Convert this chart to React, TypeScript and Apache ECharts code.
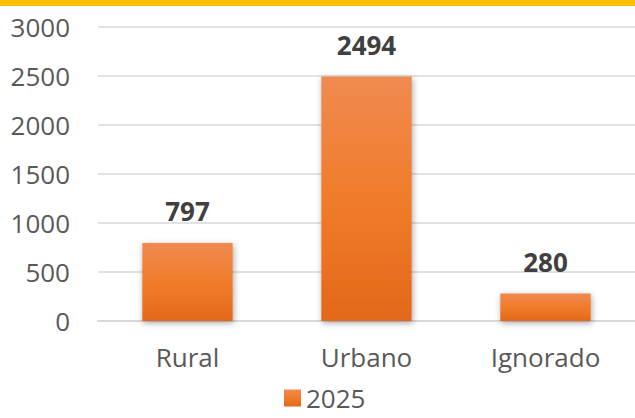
import React, { useEffect, useRef } from "react";
import * as echarts from "echarts";

const categories = ["Rural", "Urbano", "Ignorado"];
const values2025 = [797, 2494, 280];
const seriesName = "2025";
const yTicks = [0, 500, 1000, 1500, 2000, 2500, 3000];

export default function App() {
  const ref = useRef<HTMLDivElement>(null);
  useEffect(() => {
    if (!ref.current) return;
    const chart = echarts.init(ref.current, null, { renderer: "svg" });
    const font = "'Open Sans', 'Noto Sans', sans-serif";
    chart.setOption({
      animation: false,
      textStyle: { fontFamily: font },
      graphic: [
        {
          type: "rect",
          left: 0,
          top: 0,
          shape: { width: 635, height: 6 },
          style: { fill: "#FFC000" },
        },
      ],
      grid: { left: 98, right: -3, top: 27, bottom: 97, containLabel: false },
      legend: {
        bottom: 2,
        left: 279,
        icon: "rect",
        itemWidth: 17,
        itemHeight: 17,
        itemGap: 10,
        textStyle: { fontSize: 26, color: "#595959", fontFamily: font },
        data: [seriesName],
      },
      xAxis: {
        type: "category",
        data: categories,
        axisLine: { show: true, lineStyle: { color: "#D9D9D9", width: 2 } },
        axisTick: { show: false },
        axisLabel: { fontSize: 26, color: "#595959", margin: 23, fontFamily: font },
      },
      yAxis: {
        type: "value",
        min: yTicks[0],
        max: yTicks[yTicks.length - 1],
        interval: 500,
        axisLine: { show: false },
        axisTick: { show: false },
        axisLabel: {
          fontSize: 26,
          color: "#595959",
          margin: 28,
          fontFamily: font,
          formatter: (v: number) => String(v),
        },
        splitLine: { lineStyle: { color: "#D9D9D9", width: 1.5 } },
      },
      series: [
        {
          name: seriesName,
          type: "bar",
          data: values2025,
          barWidth: "50.5%",
          itemStyle: {
            color: new echarts.graphic.LinearGradient(0, 0, 0, 1, [
              { offset: 0, color: "#F08A50" },
              { offset: 0.5, color: "#F07C2A" },
              { offset: 1, color: "#E4681A" },
            ]),
            shadowBlur: 6,
            shadowColor: "rgba(0,0,0,0.35)",
            shadowOffsetX: 1,
            shadowOffsetY: 2,
          },
          label: {
            show: true,
            position: "top",
            distance: 19,
            fontSize: 26,
            fontWeight: "bold",
            color: "#404040",
            fontFamily: font,
          },
        },
      ],
    });
    return () => chart.dispose();
  }, []);
  return (
    <div
      ref={ref}
      style={{ position: "fixed", left: 0, top: 0, width: 635, height: 418, background: "#fff" }}
    />
  );
}
